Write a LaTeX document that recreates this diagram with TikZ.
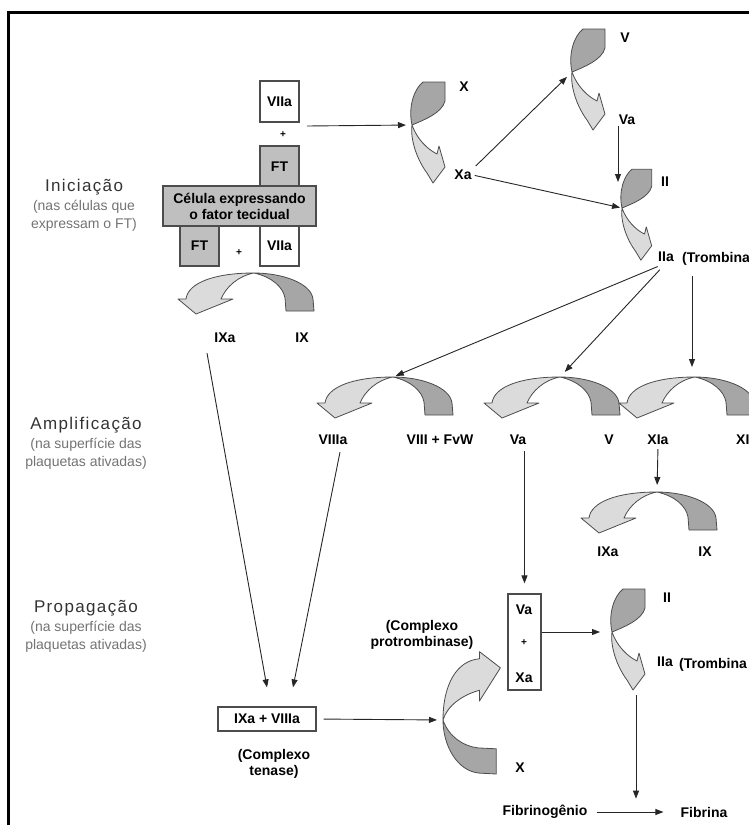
\documentclass[tikz,border=0pt]{standalone}
\usepackage{fontspec}
\setmainfont{Liberation Sans}
\newfontfamily\stagefont[LetterSpace=8]{Liberation Sans}
\usetikzlibrary{positioning,arrows.meta}

\tikzset{
  twistback/.style={fill=black!35, draw=black!70, line width=0.8pt, line join=round},
  twistfront/.style={fill=black!14, draw=black!70, line width=0.8pt, line join=round},
  pics/arch/.style={code={
    \coordinate (-top) at (0,0);
    \filldraw[twistback] (0,0) .. controls (28,0) and (57,10) .. (59,26) -- (60,38) -- (32,38) -- (31,25) .. controls (29,14) and (18,4) .. (0,0) -- cycle;
    \filldraw[twistfront] (0,0) .. controls (-40,0) and (-66,10) .. (-68,26) -- (-76,26) -- (-58,41) -- (-21,26) -- (-33,26) .. controls (-28,14) and (-16,3) .. (0,0) -- cycle;
  }},
  pics/bend/.style={code={
    \coordinate (-in) at (0,0);
    \coordinate (-tip) at (21,58);
    \filldraw[twistback] (11,-43) -- (33,-43) -- (33,-24) .. controls (30,-12) and (12,-5) .. (0,0) .. controls (-4,-18) and (2,-36) .. (11,-43) -- cycle;
    \filldraw[twistfront] (0,0) .. controls (-2,16) and (6,36) .. (15,48) -- (21,58) -- (33,42) -- (27,21) -- (25,29) .. controls (15,24) and (5,14) .. (0,0) -- cycle;
  }},
}

\begin{document}
\begin{tikzpicture}[x=1pt, y=-1pt,
    lbl/.style={font=\bfseries\fontsize{14}{16}\selectfont, inner sep=1pt},
    plus/.style={font=\bfseries\fontsize{10}{10}\selectfont, inner sep=0pt},
    stage/.style={font=\stagefont\fontsize{17}{19}\selectfont, text=black!80, inner sep=0pt},
    stagesub/.style={font=\fontsize{14}{18}\selectfont, text=black!55, align=center, inner sep=0pt},
    box/.style={draw=black!70, line width=1.2pt, fill=white, inner sep=0pt, font=\bfseries\fontsize{14}{16}\selectfont},
    ftbox/.style={box, fill=black!25},
    arr/.style={draw=black!85, line width=0.9pt, -{Triangle[length=8pt,width=6pt]}}]
  \useasboundingbox (0,0) rectangle (749,825);
  \clip (0,0) rectangle (749,825);
  \draw[line width=3pt] (8,825) -- (8,12) -- (749,12);

  % fases
  \node[stage] (ini) at (84,187) {Iniciação};
  \node[stagesub, below=5pt of ini] (iniSub) {(nas células que\\expressam o FT)};
  \node[stage] (amp) at (86,425) {Amplificação};
  \node[stagesub, below=5pt of amp] (ampSub) {(na superfície das\\plaquetas ativadas)};
  \node[stage] (prop) at (86,608) {Propagação};
  \node[stagesub, below=5pt of prop] (propSub) {(na superfície das\\plaquetas ativadas)};

  % celula com FT
  \node[box, minimum width=39pt, minimum height=41pt] (VIIaTop) at (279.5,101.5) {VIIa};
  \node[plus] (plusTop) at (283,135) {+};
  \node[ftbox, minimum width=39pt, minimum height=41pt] (FTtop) at (279.5,166.5) {FT};
  \node[ftbox, minimum width=153pt, minimum height=40pt, align=center] (cell) at (239.5,206) {Célula expressando\\o fator tecidual};
  \node[ftbox, minimum width=39pt, minimum height=40pt] (FTlow) at (199.5,246) {FT};
  \node[plus] (plusLow) at (239,253) {+};
  \node[box, minimum width=39pt, minimum height=40pt] (VIIaLow) at (279.5,246) {VIIa};
  \coordinate (tfOut) at (307,126);

  % setas curvas
  \pic (bX) at (412,125) {bend};
  \pic (bV) at (572,72) {bend};
  \pic[scale=0.9] (bII) at (622,208) {bend};
  \pic (bII2) at (612,632) {bend};
  \pic[cm={0,-0.9,-1.4,0,(0,0)}] (bX2) at (443,720) {arch};
  \pic (aIX) at (254,273) {arch};
  \pic (aVIII) at (393,377) {arch};
  \pic (aV) at (560,377) {arch};
  \pic (aXI) at (695,377) {arch};
  \pic (aIX2) at (657,492) {arch};

  % fatores
  \node[lbl] (lX) at (464,87) {X};
  \node[lbl] (lXa) at (463,175) {Xa};
  \node[lbl] (lV) at (625,38) {V};
  \node[lbl] (lVa) at (627,120) {Va};
  \node[lbl] (lII) at (665,182) {II};
  \node[lbl] (lIIa) at (666,257) {IIa};
  \node[lbl, anchor=west] (lTromb) at (681,259) {(Trombina};
  \node[lbl] (lIXa) at (225,338) {IXa};
  \node[lbl] (lIX) at (302,338) {IX};
  \node[lbl] (lVIIIa) at (333,440) {VIIIa};
  \node[lbl] (lVIII) at (440,440) {VIII + FvW};
  \node[lbl] (lVa2) at (518,440) {Va};
  \node[lbl] (lV2) at (609,440) {V};
  \node[lbl] (lXIa) at (658,440) {XIa};
  \node[lbl, anchor=west] (lXI) at (735,440) {XI};
  \node[lbl] (lIXa2) at (608,552) {IXa};
  \node[lbl] (lIX2) at (705,552) {IX};

  % complexos
  \node[lbl, align=center] (lProtro) at (422,635) {(Complexo\\protrombinase)};
  \node[box, minimum width=33pt, minimum height=96pt] (VaXa) at (524.5,642) {};
  \node[lbl] (lVa3) at (524,610) {Va};
  \node[plus] (plusVaXa) at (524,643) {+};
  \node[lbl] (lXa3) at (524,678) {Xa};
  \node[lbl] (lII2) at (667,598) {II};
  \node[lbl] (lIIa2) at (665,662) {IIa};
  \node[lbl, anchor=west] (lTromb2) at (678,665) {(Trombina};
  \node[box, minimum width=98pt, minimum height=24pt] (tenBox) at (267,719) {IXa + VIIIa};
  \node[lbl, align=center] (lTenase) at (274,764) {(Complexo\\tenase)};
  \node[lbl] (lX2) at (520,768) {X};
  \node[lbl] (lFibrinog) at (545,812) {Fibrinogênio};
  \node[lbl] (lFibrina) at (704,812) {Fibrina};

  % ligacoes
  \draw[arr, shorten >=6pt] (tfOut) -- (bX-in);
  \draw[arr, shorten <=4pt, shorten >=7pt] (lXa.north east) -- (bV-in);
  \draw[arr, shorten <=2pt, shorten >=2pt] (lXa.east) -- (bII-in);
  \draw[arr] ([xshift=-9pt]lVa.south) -- ([xshift=-4pt,yshift=26pt]bII-in);
  \draw[arr, shorten <=9pt, shorten >=3pt] (lIIa.south) -- (aVIII-top);
  \draw[arr, shorten <=9pt, shorten >=7pt] (lIIa.south) -- (aV-top);
  \draw[arr, shorten <=9pt, shorten >=10pt] ([xshift=-3pt]aXI-top |- lTromb.south) -- ([xshift=-3pt]aXI-top);
  \draw[arr, shorten <=3pt, shorten >=7pt] (lXIa.south) -- (aIX2-top);
  \draw[arr] ([xshift=-18pt,yshift=-9pt]lIXa.south) -- ([yshift=19pt]tenBox.north);
  \draw[arr] ([xshift=7pt,yshift=-6pt]lVIIIa.south) -- ([xshift=26pt,yshift=19pt]tenBox.north);
  \draw[arr, shorten <=5pt, shorten >=10pt] (VaXa.north |- lVa2.south) -- (VaXa.north);
  \draw[arr, shorten <=7pt, shorten >=6pt] (tenBox.east) -- (bX2-top);
  \draw[arr, shorten >=12pt] (VaXa.east |- bII2-in) -- (bII2-in);
  \draw[arr, shorten <=5pt, shorten >=7pt] ([xshift=3pt]bII2-tip) -- ([xshift=3pt]bII2-tip |- lFibrina.north);
  \draw[arr, shorten <=8pt, shorten >=16pt] (lFibrinog.east) -- (lFibrina.west);
\end{tikzpicture}
\end{document}
